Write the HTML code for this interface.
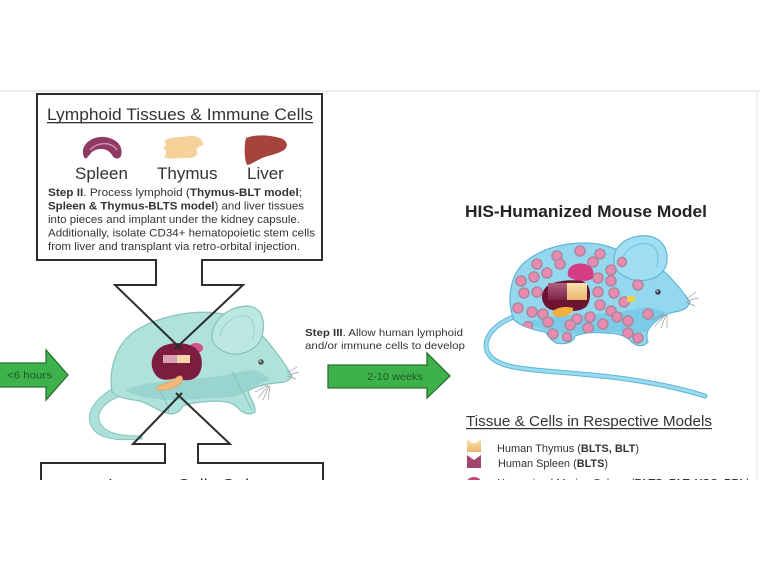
<!DOCTYPE html>
<html>
<head>
<meta charset="utf-8">
<style>
html,body{margin:0;padding:0;background:#fff;}
body{width:760px;height:570px;overflow:hidden;}
svg{display:block;}
text{font-family:"Liberation Sans",Arial,sans-serif;}
</style>
</head>
<body>
<svg width="760" height="570" viewBox="0 0 760 570" xmlns="http://www.w3.org/2000/svg">
<defs>
  <clipPath id="page"><rect x="0" y="0" width="760" height="480"/></clipPath>
  <clipPath id="m2body">
    <path d="M514,320 C506,300 510,275 525,262 C540,250 560,243 585,243 C600,243 612,247 622,252 C635,262 650,268 665,272 C675,282 684,293 690,302 C688,308 682,311 674,312 C665,314 660,318 655,322 C648,328 645,334 648,342 C643,348 634,346 630,340 C622,334 615,333 605,333 C595,332 585,332 575,336 C574,342 566,345 556,343 C550,340 548,335 545,332 C535,330 522,327 514,320 Z"/>
  </clipPath>
  <linearGradient id="beige" x1="0" y1="0" x2="0" y2="1">
    <stop offset="0" stop-color="#fbe2b0"/><stop offset="1" stop-color="#e9b66e"/>
  </linearGradient>
  <linearGradient id="maroon" x1="0" y1="0" x2="0" y2="1">
    <stop offset="0" stop-color="#b0607e"/><stop offset="1" stop-color="#7a2244"/>
  </linearGradient>
</defs>

<!-- faint frame -->
<rect x="0" y="90" width="760" height="2" fill="#ececec"/>
<rect x="756" y="90" width="1.5" height="390" fill="#eeeeee"/>

<g clip-path="url(#page)">

<!-- ============ MOUSE 1 ============ -->
<g>
  <path d="M118,386 C92,398 80,420 98,434 C110,441 125,440 142,439 L142,436 C126,436 112,435 104,428 C93,418 100,403 121,396 Z" fill="#aee0da" stroke="#86c3bb" stroke-width="1"/>
  <path d="M112,392 C108,365 118,340 140,328 C160,317 190,310 215,313 C238,314 256,328 268,342 C276,352 284,362 292,376 C290,381 283,383 276,383 C266,384 256,386 248,391 C250,398 256,406 255,412 C250,416 242,413 238,408 C232,402 225,401 213,401 C200,402 190,403 183,406 C180,412 174,416 166,413 C158,411 150,404 140,401 C128,399 118,398 112,392 Z" fill="#b0e2dc" stroke="#86c3bb" stroke-width="1.2"/>
  <path d="M125,390 C150,378 200,382 240,372 C255,368 262,372 270,380 C258,384 250,388 246,392 C236,398 222,398 210,398 C190,400 170,402 150,398 C138,396 130,394 125,390 Z" fill="#93d2ca" opacity="0.8"/>
  <path d="M232,372 C240,385 245,398 252,410" fill="none" stroke="#86c3bb" stroke-width="1"/>
  <path d="M160,392 C165,400 170,408 168,413" fill="none" stroke="#86c3bb" stroke-width="1"/>
  <path d="M212,335 C214,318 230,306 248,306 C262,307 266,322 262,336 C258,350 240,358 225,352 C216,348 211,342 212,335 Z" fill="#bde8e2" stroke="#86c3bb" stroke-width="1.2"/>
  <path d="M220,336 C222,324 234,315 246,316 C254,318 256,330 252,340" fill="none" stroke="#9fd3cc" stroke-width="1.2"/>
  <circle cx="261" cy="362" r="2.8" fill="#555"/>
  <circle cx="260.3" cy="361.3" r="0.9" fill="#ddd"/>
  <g stroke="#9a9a9a" stroke-width="0.7" fill="none">
    <path d="M287,373 L297,367"/><path d="M288,375 L299,372"/><path d="M287,376 L296,379"/>
    <path d="M268,385 L255,392"/><path d="M268,386 L258,398"/><path d="M269,386 L263,400"/><path d="M270,386 L268,400"/>
  </g>
  <ellipse cx="196" cy="348" rx="7" ry="5" fill="#d2508c"/>
  <path d="M156,352 C162,342 182,341 192,346 C203,351 204,366 199,374 C194,382 182,381 176,378 C170,380 160,382 155,374 C150,366 151,358 156,352 Z" fill="#7c1c3e"/>
  <rect x="163" y="355" width="14" height="8" fill="#d8a0ae"/>
  <rect x="177" y="355" width="13" height="8" fill="#f2d6a6"/>
  <path d="M158,386 C165,383 172,382 176,378 C180,374 184,376 182,381 C180,386 172,389 164,390 C158,391 155,389 158,386 Z" fill="#f2b878" stroke="#d89a5a" stroke-width="0.6"/>
</g>

<!-- ============ MOUSE 2 ============ -->
<g>
  <path d="M516,316 C490,325 478,345 492,358 C505,370 540,370 580,374 C630,378 670,385 705,396" fill="none" stroke="#5fb6d5" stroke-width="5" stroke-linecap="round"/>
  <path d="M516,316 C490,325 478,345 492,358 C505,370 540,370 580,374 C630,378 670,385 705,396" fill="none" stroke="#9adbf0" stroke-width="3" stroke-linecap="round"/>
  <path d="M514,320 C506,300 510,275 525,262 C540,250 560,243 585,243 C600,243 612,247 622,252 C635,262 650,268 665,272 C675,282 684,293 690,302 C688,308 682,311 674,312 C665,314 660,318 655,322 C648,328 645,334 648,342 C643,348 634,346 630,340 C622,334 615,333 605,333 C595,332 585,332 575,336 C574,342 566,345 556,343 C550,340 548,335 545,332 C535,330 522,327 514,320 Z" fill="#94d8ef" stroke="#5fb6d5" stroke-width="1.2"/>
  <path d="M525,322 C560,312 600,318 640,308 C652,306 660,310 666,313 C660,318 652,324 648,332 C630,333 600,331 580,334 C560,334 540,330 525,322 Z" fill="#72c6e6" opacity="0.7"/>
  <path d="M614,262 C612,245 630,234 648,236 C662,238 670,250 666,266 C660,280 640,284 628,278 C618,274 614,268 614,262 Z" fill="#a2def2" stroke="#5fb6d5" stroke-width="1.2"/>
  <path d="M622,264 C622,250 636,242 648,244 C658,246 660,258 656,268" fill="none" stroke="#74c6e4" stroke-width="1.2"/>
  <circle cx="658" cy="292" r="2.8" fill="#445"/>
  <circle cx="657.3" cy="291.3" r="0.9" fill="#ddd"/>
  <g stroke="#999" stroke-width="0.7" fill="none">
    <path d="M686,299 L696,292"/><path d="M687,301 L698,298"/><path d="M686,302 L695,306"/>
    <path d="M664,314 L652,320"/><path d="M665,315 L655,326"/><path d="M666,315 L661,328"/><path d="M667,315 L667,328"/>
  </g>
  <g clip-path="url(#m2body)" fill="#e98bb0" stroke="#a98a9e" stroke-width="1.6">
    <circle cx="557" cy="256" r="5"/><circle cx="580" cy="251" r="5"/><circle cx="600" cy="254" r="5"/>
    <circle cx="537" cy="264" r="5"/><circle cx="560" cy="264" r="5"/><circle cx="593" cy="262" r="5"/>
    <circle cx="521" cy="281" r="5"/><circle cx="534" cy="277" r="5"/><circle cx="547" cy="273" r="5"/>
    <circle cx="598" cy="278" r="5"/><circle cx="611" cy="270" r="5"/><circle cx="524" cy="293" r="5"/>
    <circle cx="537" cy="292" r="5"/><circle cx="598" cy="292" r="5"/><circle cx="614" cy="293" r="5"/>
    <circle cx="611" cy="281" r="5"/><circle cx="518" cy="308" r="5"/><circle cx="532" cy="312" r="5"/>
    <circle cx="543" cy="314" r="5"/><circle cx="577" cy="319" r="5"/><circle cx="590" cy="317" r="5"/>
    <circle cx="600" cy="305" r="5"/><circle cx="611" cy="311" r="5"/><circle cx="624" cy="302" r="5"/>
    <circle cx="617" cy="317" r="5"/><circle cx="570" cy="325" r="5"/><circle cx="548" cy="322" r="5"/>
    <circle cx="628" cy="321" r="5"/><circle cx="628" cy="333" r="5"/><circle cx="638" cy="338" r="5"/>
    <circle cx="553" cy="334" r="5"/><circle cx="588" cy="328" r="5"/><circle cx="603" cy="324" r="5"/>
    <circle cx="638" cy="285" r="5"/><circle cx="648" cy="314" r="5"/><circle cx="528" cy="326" r="4.5"/>
    <circle cx="567" cy="337" r="4.5"/><circle cx="622" cy="262" r="4.5"/>
  </g>
  <path d="M568,276 C566,266 576,262 585,264 C592,266 596,272 592,279 C586,282 575,282 568,276 Z" fill="#d43c86"/>
  <path d="M544,290 C548,281 570,279 582,281 C592,284 592,300 586,307 C578,313 566,311 562,309 C554,312 546,310 543,302 C541,297 542,293 544,290 Z" fill="#6e1433"/>
  <rect x="548" y="283" width="19" height="17" fill="url(#maroon)"/>
  <rect x="567" y="283" width="20" height="17" fill="url(#beige)"/>
  <path d="M553,311 C558,307 566,306 573,308 C574,312 568,317 560,317 C555,317 551,315 553,311 Z" fill="#f0b040"/>
  <rect x="627" y="296" width="8" height="6" rx="1.5" fill="#e8d44a"/>
</g>

<!-- ============ TOP BOX + ARROW ============ -->
<path d="M181,349 L115,285 L156,285 L156,260 L37,260 L37,94 L322,94 L322,260 L202,260 L202,285 L243,285 L175,349" fill="none" stroke="#2d2d2d" stroke-width="2"/>

<text x="47" y="120" font-size="17" fill="#333" textLength="266" lengthAdjust="spacingAndGlyphs">Lymphoid Tissues &amp; Immune Cells</text>
<rect x="47" y="122" width="266" height="1.3" fill="#333"/>

<path d="M84,157 C79,145 92,136 104,137 C116,138 124,146 121,156 C119,160 114,159 112,155 C108,148 98,147 92,152 C88,156 86,161 84,157 Z" fill="#8e3a63"/>
<path d="M90,150 C97,142 111,141 117,150" fill="none" stroke="#d58cb0" stroke-width="1.6"/>
<path d="M164,141 C170,136 180,138 188,136 C196,135 204,139 203,145 C199,147 195,148 197,151 C199,156 192,159 184,158 C176,158 170,160 164,157 C167,154 167,151 163,148 C167,146 166,143 164,141 Z" fill="#f6d19a"/>
<path d="M246,138 C255,134 270,135 280,138 C287,140 289,146 284,150 C278,154 270,155 262,158 C256,161 250,165 247,165 C244,158 244,145 246,138 Z" fill="#a6433a"/>

<text x="75" y="179" font-size="17" fill="#333">Spleen</text>
<text x="157" y="179" font-size="17" fill="#333">Thymus</text>
<text x="247" y="179" font-size="17" fill="#333">Liver</text>

<g font-size="11" fill="#333">
  <text x="48" y="196" textLength="254" lengthAdjust="spacingAndGlyphs"><tspan font-weight="bold">Step II</tspan>. Process lymphoid (<tspan font-weight="bold">Thymus-BLT model</tspan>;</text>
  <text x="48" y="209.5" textLength="256" lengthAdjust="spacingAndGlyphs"><tspan font-weight="bold">Spleen &amp; Thymus-BLTS model</tspan>) and liver tissues</text>
  <text x="48" y="223" textLength="252" lengthAdjust="spacingAndGlyphs">into pieces and implant under the kidney capsule.</text>
  <text x="48" y="236.5" textLength="267" lengthAdjust="spacingAndGlyphs">Additionally, isolate CD34+ hematopoietic stem cells</text>
  <text x="48" y="250" textLength="252" lengthAdjust="spacingAndGlyphs">from liver and transplant via retro-orbital injection.</text>
</g>

<!-- ============ BOTTOM BOX + ARROW ============ -->
<path d="M182,393 L133,444 L165,444 L165,463 L41,463 L41,490" fill="none" stroke="#2d2d2d" stroke-width="2"/>
<path d="M176,393 L230,444 L198,444 L198,463 L323,463 L323,490" fill="none" stroke="#2d2d2d" stroke-width="2"/>
<text x="108" y="490.5" font-size="17" fill="#333" textLength="150" lengthAdjust="spacingAndGlyphs">Immune Cells Only</text>

<!-- ============ GREEN ARROWS ============ -->
<polygon points="-2,363 46,363 46,350 68,375 46,400 46,387 -2,387" fill="#3db24b" stroke="#2c6f32" stroke-width="1.3"/>
<text x="7" y="378.5" font-size="10" fill="#1f5a22" textLength="45" lengthAdjust="spacingAndGlyphs">&lt;6 hours</text>

<polygon points="328,365 427,365 427,353 450,376 427,398 427,388 328,388" fill="#3db24b" stroke="#2c6f32" stroke-width="1.3"/>
<text x="367" y="380" font-size="10" fill="#1f5a22" textLength="56" lengthAdjust="spacingAndGlyphs">2-10 weeks</text>

<g font-size="10.5" fill="#333">
  <text x="305" y="336" textLength="158" lengthAdjust="spacingAndGlyphs"><tspan font-weight="bold">Step III</tspan>. Allow human lymphoid</text>
  <text x="305" y="349" textLength="160" lengthAdjust="spacingAndGlyphs">and/or immune cells to develop</text>
</g>

<!-- ============ RIGHT TITLES / LEGEND ============ -->
<text x="465" y="217" font-size="16.5" font-weight="bold" fill="#222" textLength="242" lengthAdjust="spacingAndGlyphs">HIS-Humanized Mouse Model</text>

<text x="466" y="426" font-size="15" fill="#333" textLength="246" lengthAdjust="spacingAndGlyphs">Tissue &amp; Cells in Respective Models</text>
<rect x="466" y="428" width="246" height="1.2" fill="#333"/>

<path d="M467,439 L472,443 L476,443 L481,439 L481,452 L467,452 Z" fill="url(#beige)"/>
<text x="497" y="452" font-size="11" fill="#333" textLength="142" lengthAdjust="spacingAndGlyphs">Human Thymus (<tspan font-weight="bold">BLTS, BLT</tspan>)</text>

<path d="M467,455 L474,460 L481,455 L481,468 L467,468 Z" fill="#a3466f"/>
<text x="498" y="467" font-size="11" fill="#333" textLength="110" lengthAdjust="spacingAndGlyphs">Human Spleen (<tspan font-weight="bold">BLTS</tspan>)</text>

<ellipse cx="474" cy="484" rx="8" ry="7" fill="#c0457e"/>
<text x="497" y="486.5" font-size="11" fill="#333" textLength="253" lengthAdjust="spacingAndGlyphs">Humanized Murine Spleen (<tspan font-weight="bold">BLTS, BLT, HSC, PBL</tspan>)</text>

</g>
</svg>
</body>
</html>
